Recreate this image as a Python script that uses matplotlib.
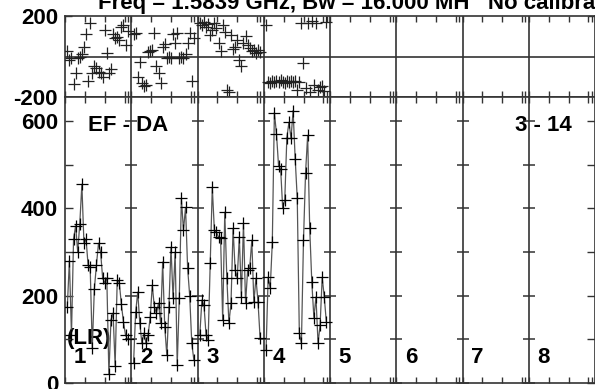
import numpy as np
import matplotlib
matplotlib.use("Agg")
import matplotlib.pyplot as plt

# possm-style plot: phase (top) and amplitude (bottom), 8 IF panels
title = "Freq = 1.5839 GHz, Bw = 16.000 MH   No calibration"
baseline_label = "EF - DA"
time_label = "3 - 14"
pol_label = "(LR)"
panel_names = ["1", "2", "3", "4", "5", "6", "7", "8"]

amp_1 = [175, 280, 110, 330, 360, 300, 365, 455, 320, 330, 270, 265, 80, 215, 270,
         320, 300, 240, 230, 240, 20, 145, 160, 40, 235, 230, 180, 140, 110, 100]
amp_2 = [46, 162, 208, 137, 91, 114, 91, 110, 151, 224, 174, 160, 183, 137, 277,
         128, 64, 174, 311, 194, 300, 41, 195, 423, 350, 402, 263, 200, 91, 53]
amp_3 = [110, 190, 178, 110, 98, 274, 448, 350, 345, 334, 331, 144, 391, 240, 137,
         183, 354, 258, 240, 334, 197, 366, 183, 258, 263, 327, 185, 240, 185, 103]
amp_4 = [75, 242, 217, 322, 619, 571, 498, 491, 400, 420, 562, 597, 560, 624, 514,
         423, 114, 91, 327, 482, 567, 354, 231, 150, 197, 91, 133, 242, 197, 139]

phase_1 = [25, -15, -8, -138, -82, -8, 0, 10, 49, 109, -120, 165, -82, -49, -57,
           -75, -82, -100, 133, 16, -82, -60, 109, 90, 95, 80, 148, 158, 58, 125]
phase_2 = [109, 115, -99, -25, -132, -148, -140, 20, 25, 30, 115, -49, -82, -132, 49,
           60, -8, 0, -5, 109, 66, 118, -8, 0, -5, 10, 66, 115, -123, 90]
phase_3 = [165, 157, 170, 148, 160, 107, 132, 165, 140, 66, 25, 157, 120, -164, -173,
           107, 35, 49, 80, -15, -49, 66, 99, 58, 40, 25, 33, 15, 30, 20]
phase_4 = [157, -125, -130, -122, -128, -120, -126, -118, -124, -130, -121, -127, -119, -125, -123,
           -163, -128, 165, -33, -156, 165, -173, 173, -140, 165, -164, -150, -148, -168, 170]

amps = [amp_1, amp_2, amp_3, amp_4]
phases = [phase_1, phase_2, phase_3, phase_4]

plt.rcParams['font.family'] = ['Liberation Sans', 'DejaVu Sans']
plt.rcParams['font.weight'] = 'bold'

fig = plt.figure(figsize=(5.95, 3.89), dpi=100)
W, H = 595.0, 389.0
left = 65 / W
ax_ph = fig.add_axes([left, 1 - 97 / H, 1 - left, (97 - 16) / H])
ax_am = fig.add_axes([left, 1 - 383 / H, 1 - left, (383 - 97) / H])

npan = len(panel_names)
lc = '#333333'

def chan_x(p, n):
    return p + 0.035 + np.arange(n) * 0.91 / (n - 1)

for p in range(len(amps)):
    x = chan_x(p, len(amps[p]))
    ax_am.plot(x, amps[p], color='#555555', lw=0.9, zorder=3)
    ax_am.plot(x, amps[p], ls='none', marker='+', ms=9, mew=0.9, color='black', zorder=4)
    xp = chan_x(p, len(phases[p]))
    ax_ph.plot(xp, phases[p], ls='none', marker='+', ms=9, mew=0.9, color='#222222', zorder=4)

xticks = []
for p in range(npan):
    xticks += [p + 0.3, p + 0.6, p + 0.9, p + 0.95]

for ax in (ax_ph, ax_am):
    ax.set_xlim(0, npan)
    for b in range(1, npan):
        ax.axvline(b, color=lc, lw=1.2, zorder=2)
    ax.set_xticks(list(range(npan + 1)) + xticks)
    ax.tick_params(axis='x', direction='in', length=4, width=1, top=True, bottom=True,
                   labelbottom=False, color=lc)
    ax.tick_params(axis='y', direction='in', length=5, width=1, right=True, left=True,
                   labelsize=16, pad=5, color=lc)
    for s in ax.spines.values():
        s.set_linewidth(1.2)
        s.set_color(lc)

ax_ph.set_ylim(-200, 200)
ax_ph.set_yticks([-200, 200])
ax_ph.set_yticklabels(['-200', '200'])
ax_ph.axhline(0, color=lc, lw=1.2, zorder=2)

ax_am.set_ylim(0, 655)
ax_am.set_yticks([0, 100, 200, 300, 400, 500, 600])
ax_am.set_yticklabels(['0', '', '200', '', '400', '', '600'])
ax_am.tick_params(axis='y', length=6)

# crossing y ticks on the inner panel borders
ylev = np.arange(0, 700, 100)
for b in range(1, npan):
    ax_am.plot(np.full(len(ylev), b), ylev, ls='none', marker='_', ms=9, mew=1.1,
               color=lc, zorder=2, clip_on=False)

for p, name in enumerate(panel_names):
    ax_am.text(p + 0.13, 46, name, fontsize=16, fontweight='bold', va='baseline', zorder=1)
ax_am.text(0.03, 90, pol_label, fontsize=16, fontweight='bold', va='baseline', zorder=1)
ax_am.text(0.35, 576, baseline_label, fontsize=16, fontweight='bold', va='baseline', zorder=1)
ax_am.text(6.79, 576, time_label, fontsize=16, fontweight='bold', va='baseline', zorder=1)

fig.text(98 / W, 1 - 9 / H, title, fontsize=16, fontweight='bold', va='baseline')

fig.savefig("out.png", dpi=100)
